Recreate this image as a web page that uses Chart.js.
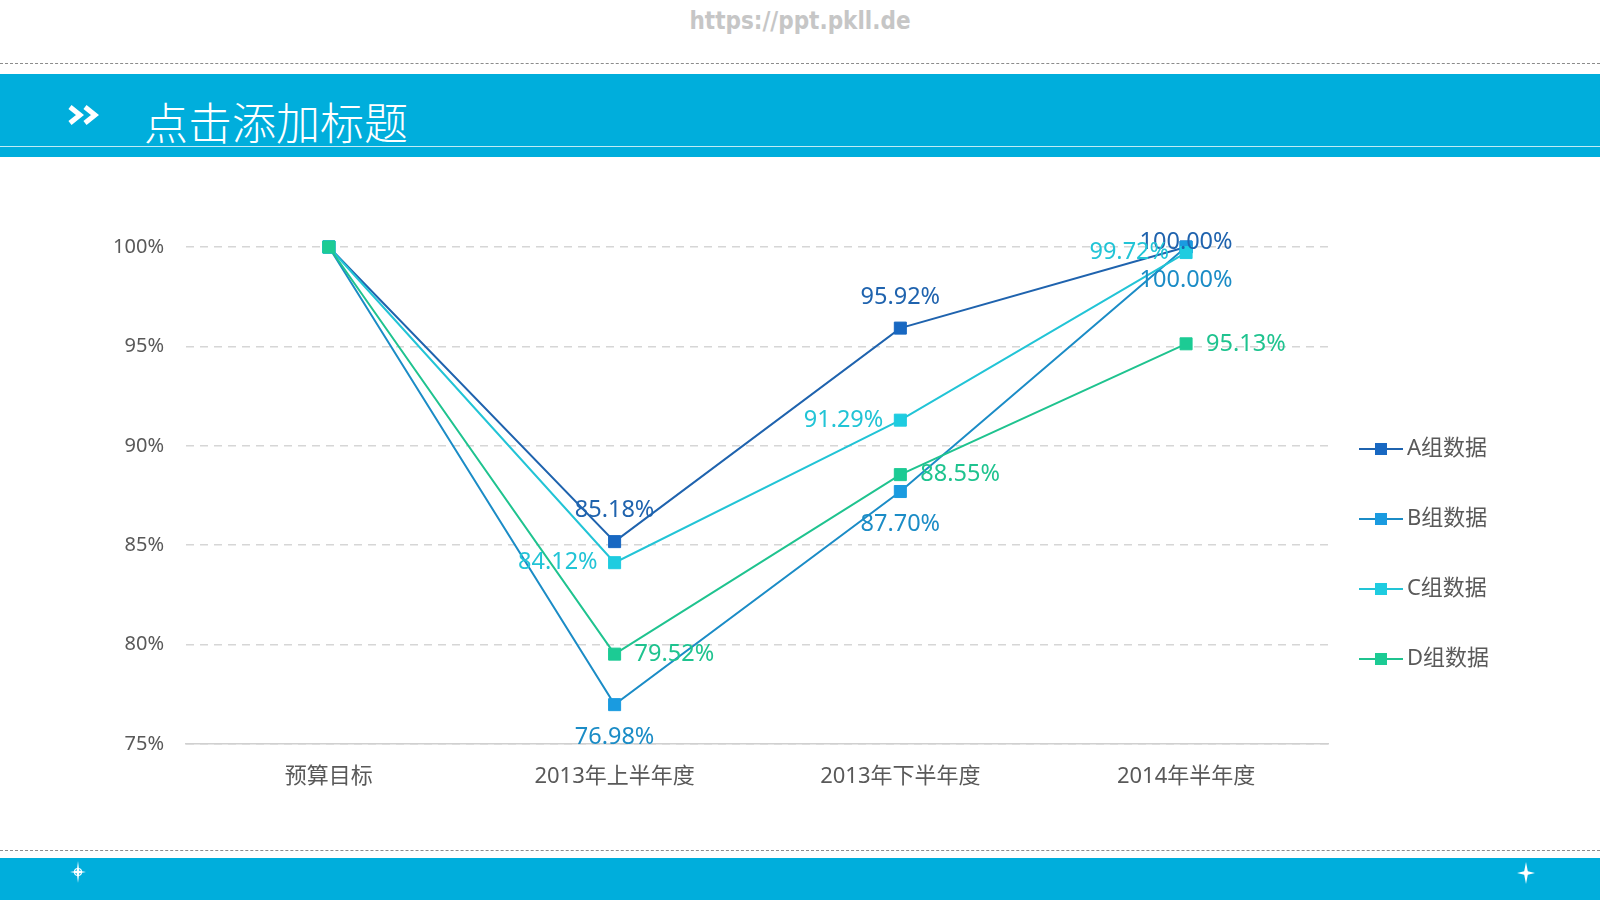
<!DOCTYPE html>
<html>
<head>
<meta charset="utf-8">
<title>点击添加标题</title>
<script src="https://cdn.jsdelivr.net/npm/chart.js@4.4.1/dist/chart.umd.min.js"></script>
<style>
html, body { margin: 0; padding: 0; background: #fff; }
#page { position: relative; width: 1600px; height: 900px; overflow: hidden; background: #fff; font-family: "Noto Sans CJK SC", "Noto Sans", sans-serif; }
.site { position: absolute; top: 7px; left: 0; width: 1600px; text-align: center; font: bold 24px "DejaVu Sans Condensed", "DejaVu Sans", sans-serif; color: #c6c6c6; }
.dash { position: absolute; left: 0; width: 1600px; height: 0; border-top: 1px dashed #8c8c8c; }
.band { position: absolute; left: 0; width: 1600px; background: #00aedc; }
.title { position: absolute; left: 144px; top: 96px; font-size: 44px; line-height: 50px; color: #fff; font-weight: 300; }
.icon { position: absolute; }
#chart { position: absolute; left: 0; top: 0; }
</style>
</head>
<body>
<div id="page">
  <div class="site">https://ppt.pkll.de</div>
  <div class="dash" style="top:63px"></div>
  <div class="band" style="top:74px;height:83px"></div>
  <div style="position:absolute;left:0;top:146px;width:1600px;height:1px;background:rgba(255,255,255,0.75)"></div>
  <svg class="icon" style="left:67px;top:104px" width="36" height="22" viewBox="0 0 36 22">
    <polyline points="3,3 13,11 3,19" fill="none" stroke="#fff" stroke-width="5"/>
    <polyline points="18,3 28,11 18,19" fill="none" stroke="#fff" stroke-width="5"/>
  </svg>
  <div class="title">点击添加标题</div>

  <div class="dash" style="top:850px"></div>
  <div class="band" style="top:858px;height:42px"></div>
  <svg class="icon" style="left:66px;top:860px" width="24" height="24" viewBox="0 0 24 24">
    <path d="M12 1 L13.2 10.8 L20 12 L13.2 13.2 L12 23 L10.8 13.2 L4 12 L10.8 10.8 Z" fill="#fff"/>
    <circle cx="12" cy="12" r="3.5" fill="none" stroke="#fff" stroke-width="1.2"/>
  </svg>
  <svg class="icon" style="left:1514px;top:861px" width="24" height="24" viewBox="0 0 24 24">
    <path d="M12 1 L13.8 10.2 L21 12 L13.8 13.8 L12 23 L10.2 13.8 L3 12 L10.2 10.2 Z" fill="#fff"/>
  </svg>

  <canvas id="chart" width="1600" height="900"></canvas>
</div>

<script>
// data
var categories = ['预算目标', '2013年上半年度', '2013年下半年度', '2014年半年度'];
var seriesNames = ['A组数据', 'B组数据', 'C组数据', 'D组数据'];
var groupA = [100, 85.18, 95.92, 100.00];
var groupB = [100, 76.98, 87.70, 100.00];
var groupC = [100, 84.12, 91.29, 99.72];
var groupD = [100, 79.52, 88.55, 95.13];
var yTicks = [75, 80, 85, 90, 95, 100];

var textGrey = '#595959';
var fontFamily = '"Noto Sans", "Noto Sans CJK SC", sans-serif';

function legendIcon(lineColor, pointColor) {
  var c = document.createElement('canvas');
  c.width = 55;
  c.height = 14;
  var g = c.getContext('2d');
  g.strokeStyle = lineColor;
  g.lineWidth = 2;
  g.beginPath();
  g.moveTo(0, 7);
  g.lineTo(44, 7);
  g.stroke();
  g.fillStyle = pointColor;
  g.fillRect(16, 1, 12, 12);
  return c;
}

function makeSet(name, values, lineColor, pointColor, labelPos, order) {
  return {
    label: name,
    data: values,
    order: order,
    borderColor: lineColor,
    backgroundColor: pointColor,
    borderWidth: 2,
    pointStyle: 'rect',
    pointRadius: 8.5,
    pointHoverRadius: 8.5,
    pointBackgroundColor: pointColor,
    pointBorderColor: pointColor,
    pointBorderWidth: 1,
    tension: 0,
    fill: false,
    clip: false,
    labelPos: labelPos,
    labelColor: lineColor,
    icon: legendIcon(lineColor, pointColor)
  };
}

// data labels, placed like the excel ones
var valueLabels = {
  id: 'valueLabels',
  afterDatasetsDraw: function (chart) {
    var ctx = chart.ctx;
    var area = chart.chartArea;
    ctx.save();
    ctx.font = '23.5px ' + fontFamily;
    ctx.textBaseline = 'middle';
    chart.data.datasets.forEach(function (ds, i) {
      var meta = chart.getDatasetMeta(i);
      meta.data.forEach(function (pt, j) {
        if (j === 0) return; // no label on the target column
        var txt = ds.data[j].toFixed(2) + '%';
        var x = pt.x, y = pt.y;
        ctx.fillStyle = ds.labelColor;
        if (ds.labelPos == 'above') {
          ctx.textAlign = 'center';
          y = Math.max(y - 31, area.top - 5);
        } else if (ds.labelPos == 'below') {
          ctx.textAlign = 'center';
          y = y + 33;
        } else if (ds.labelPos == 'left') {
          ctx.textAlign = 'right';
          x = x - 17;
        } else {
          ctx.textAlign = 'left';
          x = x + 20;
        }
        ctx.fillText(txt, x, y);
      });
    });
    ctx.restore();
  }
};

Chart.defaults.font.family = fontFamily;

new Chart(document.getElementById('chart'), {
  type: 'line',
  data: {
    labels: categories,
    datasets: [
      makeSet(seriesNames[0], groupA, '#1f63ae', '#1868c2', 'above', 4),
      makeSet(seriesNames[1], groupB, '#1b8cc6', '#1a9be0', 'below', 3),
      makeSet(seriesNames[2], groupC, '#22c4d6', '#1ecce0', 'left', 2),
      makeSet(seriesNames[3], groupD, '#1fc38f', '#1ccb94', 'right', 1)
    ]
  },
  options: {
    responsive: false,
    animation: false,
    events: [],
    layout: {
      padding: { left: 106, top: 247, right: 101, bottom: 39 }
    },
    scales: {
      x: {
        offset: true,
        grid: { display: false, drawTicks: false },
        border: { display: true, color: '#d0d0d0', width: 1.5 },
        ticks: { color: textGrey, font: { size: 22 }, padding: 20 },
        afterFit: function (s) { s.height = 117; }
      },
      y: {
        min: yTicks[0],
        max: yTicks[yTicks.length - 1],
        ticks: {
          stepSize: yTicks[1] - yTicks[0],
          color: textGrey,
          font: { size: 20 },
          padding: 22,
          callback: function (v) { return v + '%'; }
        },
        grid: { color: '#d6d6d6', lineWidth: 1.5, drawTicks: false },
        border: { display: false, dash: [8, 6] },
        afterFit: function (s) { s.width = 80; }
      }
    },
    plugins: {
      tooltip: { enabled: false },
      legend: {
        position: 'right',
        align: 'center',
        labels: {
          usePointStyle: true,
          pointStyleWidth: 19,
          boxHeight: 14,
          padding: 48,
          color: textGrey,
          font: { size: 22 },
          sort: function (a, b) { return a.datasetIndex - b.datasetIndex; },
          generateLabels: function (chart) {
            var items = Chart.defaults.plugins.legend.labels.generateLabels(chart);
            items.forEach(function (it) {
              it.pointStyle = chart.data.datasets[it.datasetIndex].icon;
              it.fontColor = textGrey;
            });
            return items;
          }
        }
      }
    }
  },
  plugins: [valueLabels]
});
</script>
</body>
</html>
